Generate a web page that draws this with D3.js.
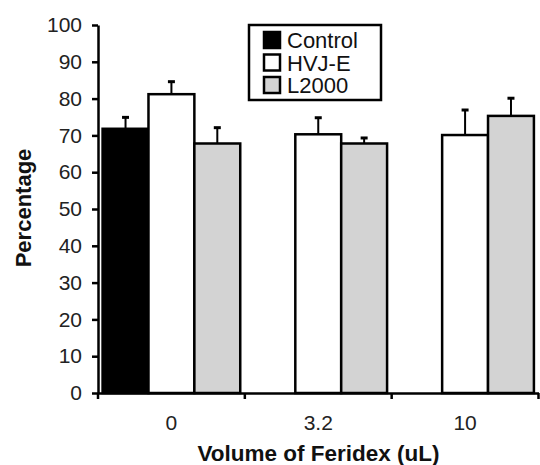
<!DOCTYPE html>
<html>
<head>
<meta charset="utf-8">
<script src="https://cdn.jsdelivr.net/npm/d3@7"></script>
<style>
  body { margin: 0; background: #fff; }
  svg { display: block; font-family: "Liberation Sans", Arial, sans-serif; }
</style>
</head>
<body>
<svg width="540" height="465"></svg>
<script>
var groups = ["0", "3.2", "10"];
var seriesNames = ["Control", "HVJ-E", "L2000"];
var seriesColors = ["#000000", "#ffffff", "#d3d3d3"];
var controlValues = [71.8, null, null];
var hvjeValues = [81.2, 70.3, 70.1];
var l2000Values = [67.8, 67.8, 75.3];
var controlErrors = [3.1, null, null];
var hvjeErrors = [3.4, 4.5, 6.8];
var l2000Errors = [4.3, 1.5, 4.8];
var yTicks = [0, 10, 20, 30, 40, 50, 60, 70, 80, 90, 100];

var values = [controlValues, hvjeValues, l2000Values];
var errors = [controlErrors, hvjeErrors, l2000Errors];

var rows = [];
for (var i = 0; i < groups.length; i++) {
  for (var s = 0; s < seriesNames.length; s++) {
    if (values[s][i] == null) continue;
    rows.push({
      "group": groups[i],
      "series": seriesNames[s],
      "value": values[s][i],
      "err": errors[s][i],
      "color": seriesColors[s]
    });
  }
}

var svg = d3.select("svg");
var plotLeft = 98, plotRight = 538.5, plotTop = 25, plotBottom = 393;

var x0 = d3.scaleBand().domain(groups).range([plotLeft, plotRight]).padding(0);
var x1 = d3.scaleBand().domain(seriesNames).range([0, x0.bandwidth()])
    .paddingInner(0).paddingOuter(0.1);
var y = d3.scaleLinear().domain([0, 100]).range([plotBottom, plotTop]);

// bars
svg.append("g")
  .selectAll("rect")
  .data(rows)
  .enter().append("rect")
  .attr("x", function(d) { return x0(d.group) + x1(d.series); })
  .attr("y", function(d) { return y(d.value); })
  .attr("width", x1.bandwidth())
  .attr("height", function(d) { return y(0) - y(d.value); })
  .attr("fill", function(d) { return d.color; })
  .attr("stroke", "#000")
  .attr("stroke-width", 2.5);

// error bars (upper only)
var eb = svg.append("g")
  .selectAll("g")
  .data(rows)
  .enter().append("g")
  .attr("transform", function(d) {
    return "translate(" + (x0(d.group) + x1(d.series) + x1.bandwidth() / 2) + ",0)";
  });
eb.append("line")
  .attr("x1", 0).attr("x2", 0)
  .attr("y1", function(d) { return y(d.value); })
  .attr("y2", function(d) { return y(d.value + d.err); })
  .attr("stroke", "#000").attr("stroke-width", 2);
eb.append("line")
  .attr("x1", -3.5).attr("x2", 3.5)
  .attr("y1", function(d) { return y(d.value + d.err); })
  .attr("y2", function(d) { return y(d.value + d.err); })
  .attr("stroke", "#000").attr("stroke-width", 3);

// y axis
var yAxis = svg.append("g")
  .attr("transform", "translate(" + plotLeft + ",0)")
  .call(d3.axisLeft(y).tickValues(yTicks).tickSize(6).tickSizeOuter(0).tickPadding(10));
yAxis.select(".domain").attr("stroke-width", 2.5);
yAxis.selectAll(".tick line").attr("stroke-width", 2.5);
yAxis.selectAll("text")
  .attr("font-size", 21)
  .attr("font-family", "Liberation Sans, Arial, sans-serif")
  .attr("fill", "#222");

// x axis: line, ticks between groups, labels at group centres
var xAxis = svg.append("g")
  .attr("transform", "translate(0," + plotBottom + ")")
  .call(d3.axisBottom(x0).tickSize(0).tickPadding(22));
xAxis.select(".domain").attr("stroke-width", 2.5);
xAxis.selectAll("text")
  .attr("font-size", 21)
  .attr("font-family", "Liberation Sans, Arial, sans-serif")
  .attr("fill", "#222");

var bounds = groups.map(function(g) { return x0(g); }).concat([plotRight]);
xAxis.selectAll(".sep")
  .data(bounds)
  .enter().append("line")
  .attr("class", "sep")
  .attr("x1", function(d) { return d; })
  .attr("x2", function(d) { return d; })
  .attr("y1", 0).attr("y2", 6)
  .attr("stroke", "#000").attr("stroke-width", 2.5);

// axis titles
svg.append("text")
  .attr("x", 318.5)
  .attr("y", 461)
  .attr("text-anchor", "middle")
  .attr("font-size", 22.5)
  .attr("font-weight", "bold")
  .attr("fill", "#111")
  .text("Volume of Feridex (uL)");

svg.append("text")
  .attr("transform", "translate(31,208) rotate(-90)")
  .attr("text-anchor", "middle")
  .attr("font-size", 22)
  .attr("font-weight", "bold")
  .attr("fill", "#111")
  .text("Percentage");

// legend
var legend = svg.append("g").attr("transform", "translate(249,25)");
legend.append("rect")
  .attr("width", 132).attr("height", 75)
  .attr("fill", "#fff").attr("stroke", "#000").attr("stroke-width", 2.5);
var item = legend.selectAll(".item")
  .data(seriesNames)
  .enter().append("g")
  .attr("class", "item")
  .attr("transform", function(d, i) { return "translate(15," + (7 + i * 22.5) + ")"; });
item.append("rect")
  .attr("width", 16).attr("height", 16)
  .attr("fill", function(d, i) { return seriesColors[i]; })
  .attr("stroke", "#000").attr("stroke-width", 2.5);
item.append("text")
  .attr("x", 23).attr("y", 16)
  .attr("font-size", 22)
  .attr("fill", "#111")
  .text(function(d) { return d; });
</script>
</body>
</html>
